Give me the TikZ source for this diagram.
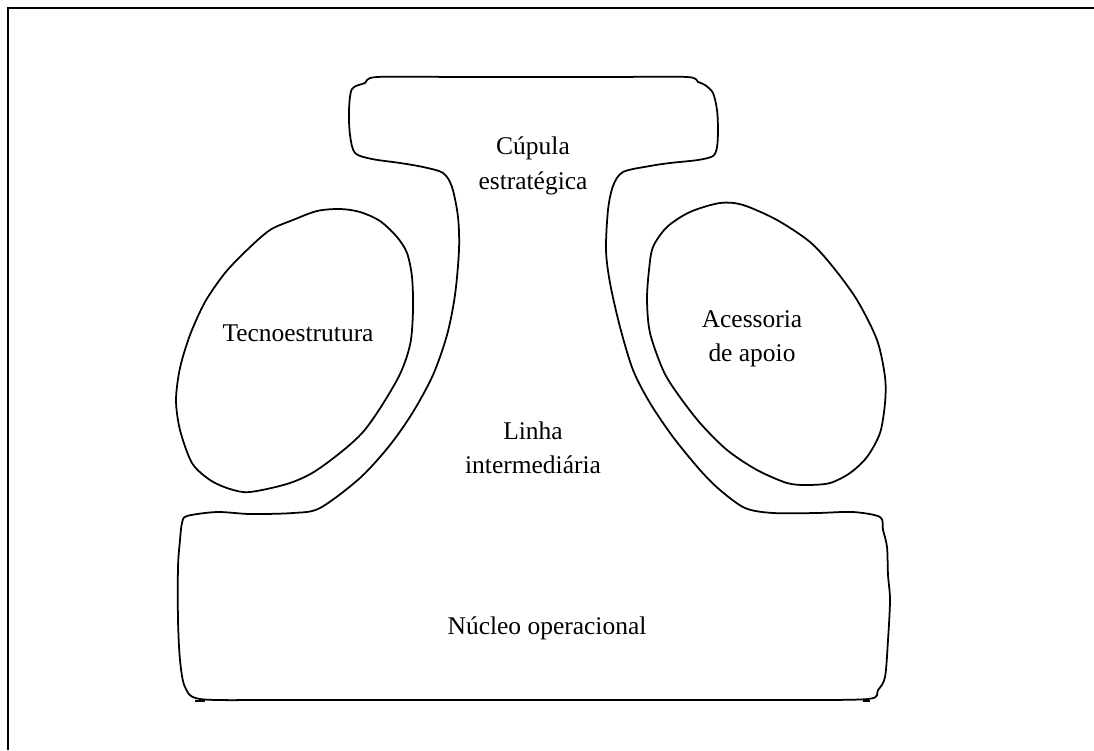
\documentclass[tikz,border=0pt]{standalone}
\usepackage{fontspec}
\setmainfont{Liberation Serif}
\usepackage{tikz}
\usetikzlibrary{positioning}
\tikzstyle{frame}=[draw,line width=1.3pt]
\tikzstyle{outline}=[draw,line width=1pt,line join=round]
\tikzstyle{part}=[align=center,inner sep=0pt,font=\fontsize{14.5}{19.5}\selectfont]

\begin{document}
\begin{tikzpicture}[x=0.02cm,y=-0.02cm]
    \useasboundingbox (0,0) rectangle (1094,750);

    % Frame
    \draw[frame] (8,750) -- (8,8) -- (1094,8);

    % Organisation outline
    \draw[outline] plot[smooth cycle,tension=0.5] coordinates {
        (377,77) (460,77) (530,77) (610,77) (687,77) (698,82) (705,85) (713,93)
        (717,110) (718,130) (717,147) (713,156) (698,160) (670,163) (650,166)
        (623,172) (613,186) (608,210) (606,250) (610,283) (620,327) (633,370)
        (650,403) (673,437) (700,470) (720,490) (745,508) (773,513) (817,513)
        (853,512) (880,517) (883,530) (887,547) (888,575) (890,600) (888,640)
        (885,677) (878,690) (868,699) (780,700) (700,700) (530,700) (360,700)
        (270,700) (200,699) (185,687) (180,660) (178,620) (178,567) (180,540)
        (182,523) (187,516) (217,512) (250,514) (293,513) (320,508) (360,478)
        (390,445) (413,412) (433,375) (447,335) (455,295) (459,250) (458,217)
        (452,187) (443,173) (423,167) (400,163) (372,159) (355,153) (350,135)
        (349,110) (352,89) (365,83)
    };
    \draw[line width=1.4pt] (195,701) -- (205,701);
    \draw[line width=1.4pt] (863,701) -- (870,701);

    % Tecnoestrutura
    \draw[outline] plot[smooth cycle,tension=0.5] coordinates {
        (340,209) (360,212) (380,221) (397,237) (407,253) (412,277) (413,310)
        (410,345) (397,380) (363,432) (320,468) (290,483) (250,492) (230,489)
        (210,480) (192,463) (180,430) (176,400) (180,368) (190,335) (205,302)
        (225,273) (247,250) (270,230) (293,220) (317,211)
    };

    % Acessoria de apoio
    \draw[outline] plot[smooth cycle,tension=0.5] coordinates {
        (720,203) (743,205) (777,220) (810,242) (833,267) (857,300) (877,340)
        (885,377) (885,403) (880,433) (867,457) (850,473) (830,483) (807,485)
        (787,483) (757,470) (727,450) (700,423) (677,393) (663,370) (650,333)
        (647,300) (649,270) (653,247) (667,227) (690,212)
    };

    % Labels
    \node[part] (cupula) at (533,166) {Cúpula\\estratégica};
    \node[part] (tecno) at (298,333) {Tecnoestrutura};
    \node[part] (apoio) at (752,339) {Acessoria\\de apoio};
    \node[part] (linha) at (533,448) {Linha\\intermediária};
    \node[part] (nucleo) at (547,628) {Núcleo operacional};
\end{tikzpicture}
\end{document}
